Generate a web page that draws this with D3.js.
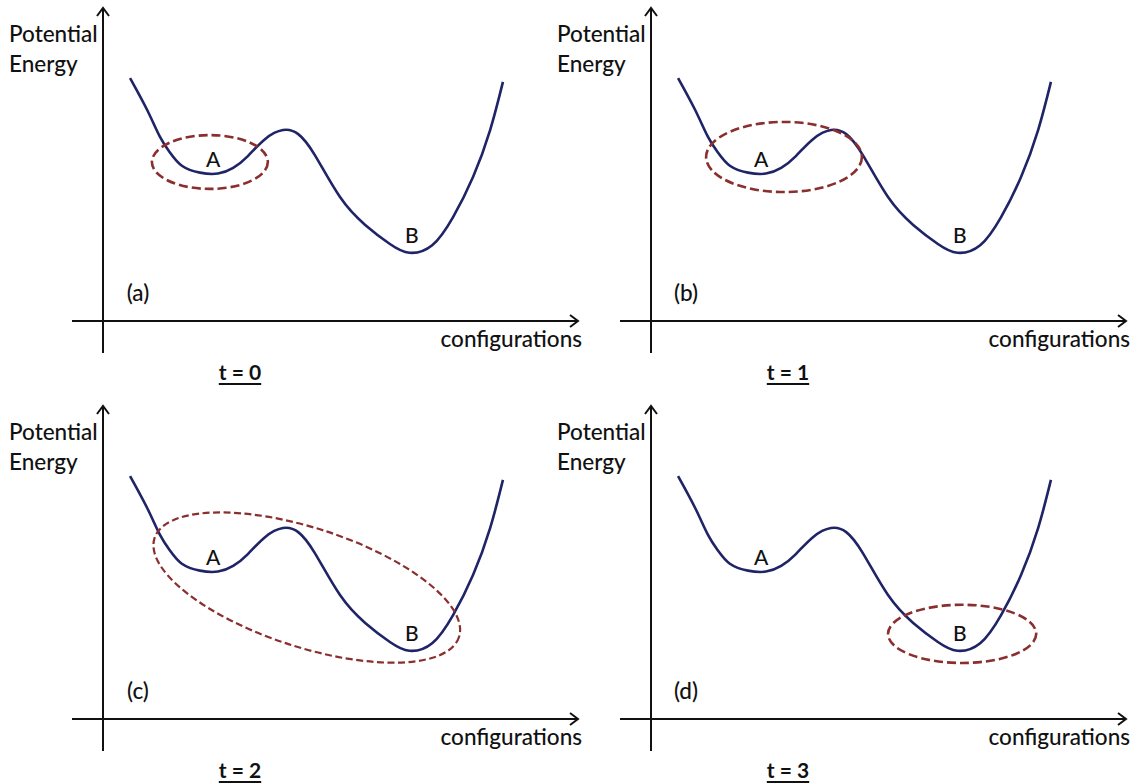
<!DOCTYPE html>
<html>
<head>
    <script src="https://d3js.org/d3.v7.min.js"></script>
    <style>
        body { margin: 0; background: #fff; }
        svg { display: block; }
        text { font-family: Lato, 'Open Sans', sans-serif; font-weight: 500; fill: #111; }
        .axis { stroke: #111; stroke-width: 2; fill: none; }
        .curve { stroke: #1f2466; stroke-width: 2.6; fill: none; }
        .basin { stroke: #8a2e2e; stroke-width: 2.6; stroke-dasharray: 9 4; fill: none; }
        .time { font-weight: 700; }
    </style>
</head>
<body>
<div id="chart"></div>
<script>
    // panels, left to right then top to bottom
    const panelTags = ["(a)", "(b)", "(c)", "(d)"];
    const timeLabels = ["t = 0", "t = 1", "t = 2", "t = 3"];

    // energy landscape (same in every panel)
    const configuration = [5.7, 9.3, 12.0, 14.1, 16.6, 20.4, 24.2, 27.4, 30.5, 34.1, 37.9, 41.1,
        44.6, 49.9, 55.2, 60.4, 64.5, 69.3, 73.7, 77.9, 81.5, 84.2];
    const energy = [77.6, 67.4, 58.8, 53.8, 49.6, 47.4, 47.1, 48.9, 52.7, 58.1, 61.0, 59.7,
        53.0, 39.6, 30.7, 24.6, 21.8, 24.2, 33.2, 46.0, 61.0, 76.4];

    // minima labels
    const minimaNames = ["A", "B"];
    const minimaConfig = [23.2, 65.0];
    const minimaEnergy = [51.4, 27.2];

    // sampled region at each time step (dashed ellipse)
    const regionConfig = [22.5, 28.0, 42.9, 65.5];
    const regionEnergy = [50.8, 52.4, 42.0, 27.2];
    const regionHalfWidth = [12.2, 16.4, 33.7, 15.6];
    const regionHalfHeight = [8.6, 11.2, 19.0, 9.3];
    const regionTilt = [0, 0, 18, 0];

    const width = 1139, height = 784;
    const colStep = 548, rowStep = 398;

    const svg = d3.select('#chart').append('svg')
        .attr('width', width)
        .attr('height', height);

    const x = d3.scaleLinear().domain([0, 100]).range([103, 578]);
    const y = d3.scaleLinear().domain([0, 100]).range([321, 8]);

    const line = d3.line()
        .x((d, i) => x(configuration[i]))
        .y((d, i) => y(energy[i]))
        .curve(d3.curveNatural);

    panelTags.forEach((tag, p) => {
        const g = svg.append('g')
            .attr('transform', `translate(${(p % 2) * colStep},${Math.floor(p / 2) * rowStep})`);

        // axes with open arrow heads
        const x0 = x(0), y0 = y(0);
        const yTop = y.range()[1], xEnd = x.range()[1];
        g.append('line').attr('class', 'axis')
            .attr('x1', x0).attr('y1', y0 + 32).attr('x2', x0).attr('y2', yTop);
        g.append('path').attr('class', 'axis')
            .attr('d', `M${x0 - 6},${yTop + 8}L${x0},${yTop}L${x0 + 6},${yTop + 8}`);
        g.append('line').attr('class', 'axis')
            .attr('x1', x0 - 31).attr('y1', y0).attr('x2', xEnd).attr('y2', y0);
        g.append('path').attr('class', 'axis')
            .attr('d', `M${xEnd - 8},${y0 - 6}L${xEnd},${y0}L${xEnd - 8},${y0 + 6}`);

        g.append('text').attr('x', 9).attr('y', 42).attr('font-size', 22.5).text('Potential');
        g.append('text').attr('x', 9).attr('y', 72).attr('font-size', 22.5).text('Energy');
        g.append('text').attr('x', 582).attr('y', 347).attr('text-anchor', 'end')
            .attr('font-size', 22.5).text('configurations');

        g.append('path').attr('class', 'curve').attr('d', line(energy));

        minimaNames.forEach((n, i) => {
            g.append('text')
                .attr('x', x(minimaConfig[i])).attr('y', y(minimaEnergy[i]))
                .attr('dy', '0.35em').attr('text-anchor', 'middle')
                .attr('font-size', 21).text(n);
        });

        const cx = x(regionConfig[p]), cy = y(regionEnergy[p]);
        g.append('ellipse').attr('class', 'basin')
            .attr('cx', cx).attr('cy', cy)
            .attr('rx', x(regionHalfWidth[p]) - x(0))
            .attr('ry', y(0) - y(regionHalfHeight[p]))
            .attr('transform', `rotate(${regionTilt[p]},${cx},${cy})`)
            .style('stroke-width', regionTilt[p] ? 2.2 : 2.6)
            .style('stroke-dasharray', regionTilt[p] ? '7 3.5' : '9 4');

        g.append('text').attr('x', 138).attr('y', 301).attr('text-anchor', 'middle')
            .attr('font-size', 22.5).text(tag);

        const t = g.append('text').attr('class', 'time')
            .attr('x', 240).attr('y', 380).attr('text-anchor', 'middle')
            .attr('font-size', 21).text(timeLabels[p]);
        const bb = t.node().getBBox();
        g.append('line').attr('stroke', '#111').attr('stroke-width', 1.8)
            .attr('x1', bb.x).attr('x2', bb.x + bb.width).attr('y1', 384).attr('y2', 384);
    });
</script>
</body>
</html>
